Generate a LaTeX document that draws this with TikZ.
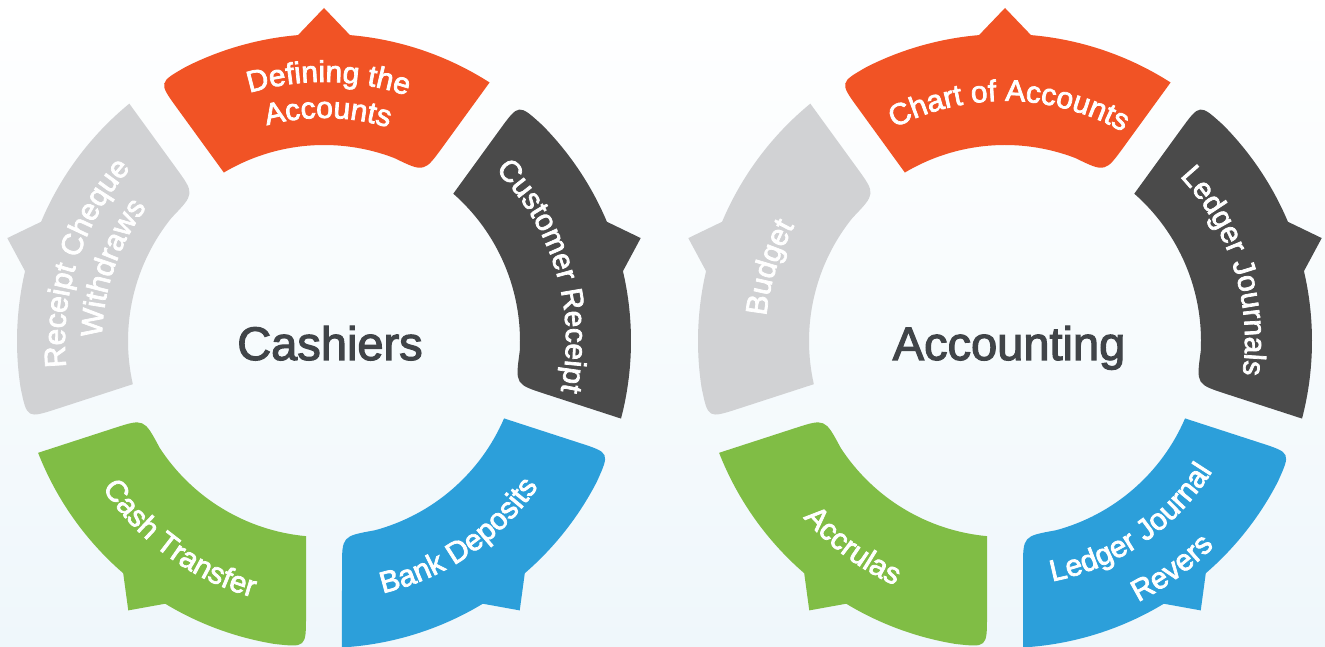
\documentclass[tikz,border=0pt]{standalone}
\usepackage{fontspec}
\setmainfont{Liberation Sans}
\newfontfamily\medfont{Liberation Sans}[FakeBold=2.5]
\usetikzlibrary{calc,decorations.text}
\definecolor{segorange}{RGB}{241,83,37}
\definecolor{segdark}{RGB}{74,74,74}
\definecolor{segblue}{RGB}{44,159,218}
\definecolor{seggreen}{RGB}{128,189,69}
\definecolor{seggray}{RGB}{209,210,212}
\definecolor{centertext}{RGB}{64,68,72}
\definecolor{bgbottom}{RGB}{239,247,251}
\newcommand\lblfmt{\color{white}\medfont\fontsize{30pt}{36pt}\selectfont}
% #1 centre angle, #2 colour
\newcommand\cycleseg[2]{%
  \pgfmathsetmacro\sA{#1-32.639}%
  \pgfmathsetmacro\sB{#1-4.85}%
  \pgfmathsetmacro\sC{#1+4.85}%
  \pgfmathsetmacro\sD{#1+26.7}%
  \pgfmathsetmacro\sP{#1+32.639}%
  \pgfmathsetmacro\sQ{#1+30.73}%
  \pgfmathsetmacro\sS{#1-30.73}%
  \pgfmathsetmacro\sE{#1-21.0}%
  \coordinate (P) at (\sP:307pt);
  \coordinate (Q) at (\sQ:196pt);
  \coordinate (S) at (\sS:196pt);
  \coordinate (A) at (\sA:307pt);
  \fill[#2] (A) arc[start angle=\sA, end angle=\sB, radius=307pt]
    -- (#1:333pt) -- (\sC:307pt)
    arc[start angle=\sC, end angle=\sD, radius=307pt]
    .. controls (P) and (P) .. ($(P)!32pt!(Q)$) -- (Q)
    arc[start angle=\sQ, end angle=\sE, radius=196pt]
    .. controls (S) and (S) .. ($(S)!32pt!(A)$) -- cycle;
}
% clockwise text (tops outward): #1 centre angle, #2 baseline radius, #3 text
\newcommand\cwlabel[3]{%
  \pgfmathsetmacro\tA{#1+70}%
  \pgfmathsetmacro\tB{#1-70}%
  \path[decorate, decoration={text along path, text={|\lblfmt|#3}, text align=center}]
    (\tA:#2pt) arc[start angle=\tA, end angle=\tB, radius=#2pt];
}
% counter-clockwise text (tops inward)
\newcommand\ccwlabel[3]{%
  \pgfmathsetmacro\tA{#1-70}%
  \pgfmathsetmacro\tB{#1+70}%
  \path[decorate, decoration={text along path, text={|\lblfmt|#3}, text align=center}]
    (\tA:#2pt) arc[start angle=\tA, end angle=\tB, radius=#2pt];
}
\begin{document}
\begin{tikzpicture}[centrelabel/.style={text=centertext, font=\medfont\fontsize{47pt}{56pt}\selectfont, anchor=base, inner sep=0pt}]
\useasboundingbox (0,0) rectangle (1325pt,647pt);
\clip (0,0) rectangle (1325pt,647pt);
\shade[top color=white, bottom color=bgbottom] (0,0) rectangle (1325pt,647pt);
% left cycle
\begin{scope}[shift={(324pt,306pt)}]
  \cycleseg{90}{segorange}
  \cycleseg{18}{segdark}
  \cycleseg{-54}{segblue}
  \cycleseg{-126}{seggreen}
  \cycleseg{162}{seggray}
  \cwlabel{89}{259}{Defining the}
  \cwlabel{89}{223}{Accounts}
  \cwlabel{16.5}{242}{Customer Receipt}
  \ccwlabel{-55.5}{259}{Bank Deposits}
  \ccwlabel{234}{266}{Cash Transfer}
  \cwlabel{162}{259}{Receipt Cheque}
  \cwlabel{161}{222}{Withdraws}
\end{scope}
\node[centrelabel] (cashiers) at (330pt,287pt) {Cashiers};
% right cycle
\begin{scope}[shift={(1005pt,306pt)}]
  \cycleseg{90}{segorange}
  \cycleseg{18}{segdark}
  \cycleseg{-54}{segblue}
  \cycleseg{-126}{seggreen}
  \cycleseg{162}{seggray}
  \cwlabel{89}{240}{Chart of Accounts}
  \cwlabel{17.6}{240}{Ledger Journals}
  \ccwlabel{-55.5}{245}{Ledger Journal}
  \ccwlabel{-53.7}{293}{Revers}
  \ccwlabel{233.5}{268}{Accrulas}
  \cwlabel{162.7}{240}{Budget}
\end{scope}
\node[centrelabel] (accounting) at (1009pt,287pt) {Accounting};
\end{tikzpicture}
\end{document}
